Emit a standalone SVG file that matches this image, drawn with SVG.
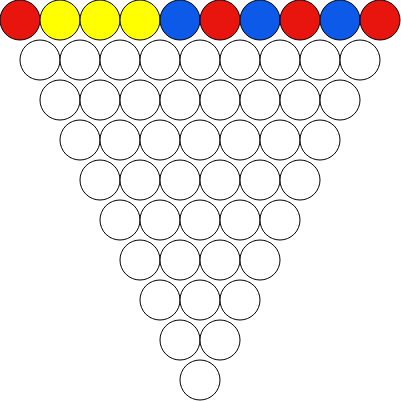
<svg xmlns="http://www.w3.org/2000/svg" width="401" height="401" viewBox="0 0 401 401">
<style>
circle{stroke:#000;stroke-width:1;fill:#fff}
.r{fill:#e8150f}.y{fill:#ffff00}.b{fill:#0d5ae8}
</style>
<rect width="401" height="401" fill="#fff"/>
<g id="row1">
<g id="n1_1"><circle class="r" cx="20" cy="20" r="20"/></g>
<g id="n1_2"><circle class="y" cx="60" cy="20" r="20"/></g>
<g id="n1_3"><circle class="y" cx="100" cy="20" r="20"/></g>
<g id="n1_4"><circle class="y" cx="140" cy="20" r="20"/></g>
<g id="n1_5"><circle class="b" cx="180" cy="20" r="20"/></g>
<g id="n1_6"><circle class="r" cx="220" cy="20" r="20"/></g>
<g id="n1_7"><circle class="b" cx="260" cy="20" r="20"/></g>
<g id="n1_8"><circle class="r" cx="300" cy="20" r="20"/></g>
<g id="n1_9"><circle class="b" cx="340" cy="20" r="20"/></g>
<g id="n1_10"><circle class="r" cx="380" cy="20" r="20"/></g>
</g>
<g id="row2">
<g id="n2_1"><circle cx="40" cy="60" r="20"/></g>
<g id="n2_2"><circle cx="80" cy="60" r="20"/></g>
<g id="n2_3"><circle cx="120" cy="60" r="20"/></g>
<g id="n2_4"><circle cx="160" cy="60" r="20"/></g>
<g id="n2_5"><circle cx="200" cy="60" r="20"/></g>
<g id="n2_6"><circle cx="240" cy="60" r="20"/></g>
<g id="n2_7"><circle cx="280" cy="60" r="20"/></g>
<g id="n2_8"><circle cx="320" cy="60" r="20"/></g>
<g id="n2_9"><circle cx="360" cy="60" r="20"/></g>
</g>
<g id="row3">
<g id="n3_1"><circle cx="60" cy="100" r="20"/></g>
<g id="n3_2"><circle cx="100" cy="100" r="20"/></g>
<g id="n3_3"><circle cx="140" cy="100" r="20"/></g>
<g id="n3_4"><circle cx="180" cy="100" r="20"/></g>
<g id="n3_5"><circle cx="220" cy="100" r="20"/></g>
<g id="n3_6"><circle cx="260" cy="100" r="20"/></g>
<g id="n3_7"><circle cx="300" cy="100" r="20"/></g>
<g id="n3_8"><circle cx="340" cy="100" r="20"/></g>
</g>
<g id="row4">
<g id="n4_1"><circle cx="80" cy="140" r="20"/></g>
<g id="n4_2"><circle cx="120" cy="140" r="20"/></g>
<g id="n4_3"><circle cx="160" cy="140" r="20"/></g>
<g id="n4_4"><circle cx="200" cy="140" r="20"/></g>
<g id="n4_5"><circle cx="240" cy="140" r="20"/></g>
<g id="n4_6"><circle cx="280" cy="140" r="20"/></g>
<g id="n4_7"><circle cx="320" cy="140" r="20"/></g>
</g>
<g id="row5">
<g id="n5_1"><circle cx="100" cy="180" r="20"/></g>
<g id="n5_2"><circle cx="140" cy="180" r="20"/></g>
<g id="n5_3"><circle cx="180" cy="180" r="20"/></g>
<g id="n5_4"><circle cx="220" cy="180" r="20"/></g>
<g id="n5_5"><circle cx="260" cy="180" r="20"/></g>
<g id="n5_6"><circle cx="300" cy="180" r="20"/></g>
</g>
<g id="row6">
<g id="n6_1"><circle cx="120" cy="220" r="20"/></g>
<g id="n6_2"><circle cx="160" cy="220" r="20"/></g>
<g id="n6_3"><circle cx="200" cy="220" r="20"/></g>
<g id="n6_4"><circle cx="240" cy="220" r="20"/></g>
<g id="n6_5"><circle cx="280" cy="220" r="20"/></g>
</g>
<g id="row7">
<g id="n7_1"><circle cx="140" cy="260" r="20"/></g>
<g id="n7_2"><circle cx="180" cy="260" r="20"/></g>
<g id="n7_3"><circle cx="220" cy="260" r="20"/></g>
<g id="n7_4"><circle cx="260" cy="260" r="20"/></g>
</g>
<g id="row8">
<g id="n8_1"><circle cx="160" cy="300" r="20"/></g>
<g id="n8_2"><circle cx="200" cy="300" r="20"/></g>
<g id="n8_3"><circle cx="240" cy="300" r="20"/></g>
</g>
<g id="row9">
<g id="n9_1"><circle cx="180" cy="340" r="20"/></g>
<g id="n9_2"><circle cx="220" cy="340" r="20"/></g>
</g>
<g id="row10">
<g id="n10_1"><circle cx="200" cy="380" r="20"/></g>
</g>
<g id="connectors"/>
</svg>
